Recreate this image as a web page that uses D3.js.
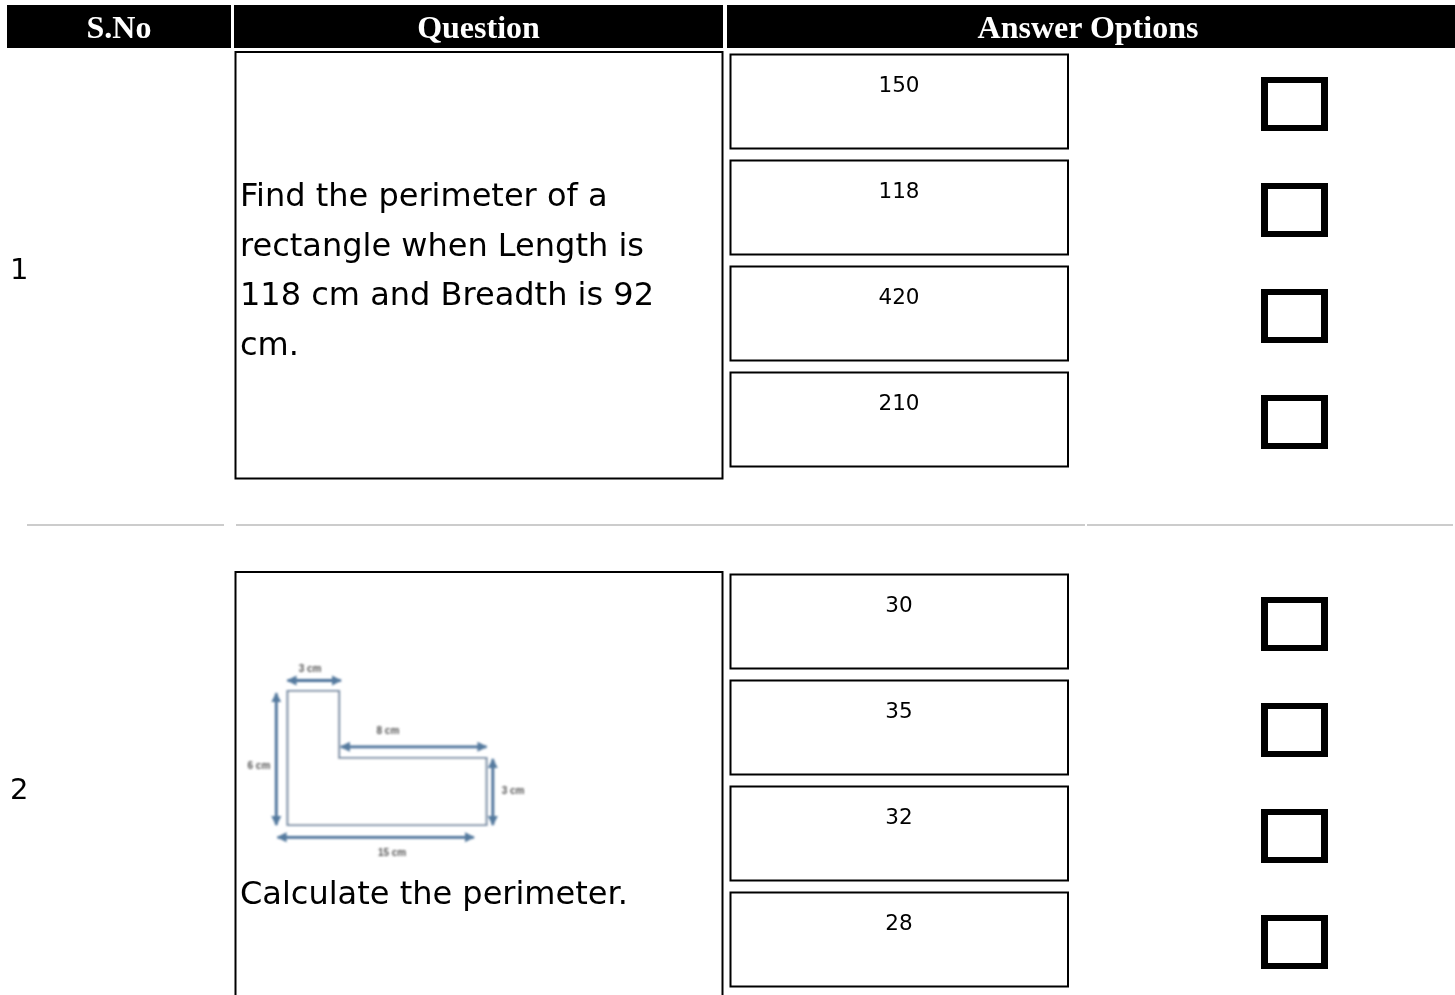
<!DOCTYPE html>
<html>
<head>
<meta charset="utf-8">
<title>Quiz table</title>
<script src="https://cdn.jsdelivr.net/npm/d3@7"></script>
<style>
	html, body { margin: 0; padding: 0; background: #fff; overflow: hidden; }
	svg { display: block; will-change: transform; }
	.head { font-family: "Liberation Serif", serif; font-weight: bold; font-size: 32px; fill: #fff; text-anchor: middle; }
	.body { font-family: "DejaVu Sans", sans-serif; fill: #000; }
</style>
</head>
<body>
<div id="table"></div>
<script>
// table content
const headers = ['S.No', 'Question', 'Answer Options'];
const serials = ['1', '2'];
const questionLines = [
	['Find the perimeter of a', 'rectangle when Length is', '118 cm and Breadth is 92', 'cm.'],
	['Calculate the perimeter.']
];
const answers = [
	['150', '118', '420', '210'],
	['30', '35', '32', '28']
];

// the small figure in question 2, in its own units (1 unit = 1 cm across / down)
const figureOutline = [[0, 0], [2.85, 0], [2.85, 3], [11, 3], [11, 6], [0, 6]];
const figureArrows = [
	[[0, -0.47], [2.95, -0.47]],
	[[-0.62, 0.1], [-0.62, 6]],
	[[2.95, 2.5], [11, 2.5]],
	[[11.35, 3.05], [11.35, 6]],
	[[-0.55, 6.55], [10.3, 6.55]]
];
const figureLabels = [
	['3 cm', 1.25, -1],
	['8 cm', 5.55, 1.75],
	['6 cm', -1.58, 3.35],
	['3 cm', 12.47, 4.45],
	['15 cm', 5.78, 7.25]
];

const svgWidth = 1455;
const svgHeight = 995;
const rowOffset = 520;

const svg = d3.select("#table").append("svg").attr("width", svgWidth).attr("height", svgHeight);

// header
const headCells = [[7, 224], [234, 489], [727, 728]];
headers.forEach(function(h, i){
	const c = headCells[i];
	svg.append("rect").attr("x", c[0]).attr("y", 5).attr("width", c[1]).attr("height", 43).attr("fill", "#000");
	svg.append("text").attr("class", "head").attr("x", c[0] + c[1] / 2 - (i === 2 ? 3 : 0)).attr("y", 38).text(h);
});

// one row of the table
function drawRow(rowIdx){
	const g = svg.append("g").attr("transform", `translate(0, ${rowIdx * rowOffset})`);

	g.append("text").attr("class", "body").attr("x", 10).attr("y", 279).attr("font-size", 29).text(serials[rowIdx]);

	g.append("rect").attr("x", 235.5).attr("y", 52).attr("width", 487).attr("height", 426.5)
		.attr("fill", "#fff").attr("stroke", "#000").attr("stroke-width", 2);

	const firstBase = rowIdx === 0 ? 206 : 384;
	questionLines[rowIdx].forEach(function(line, i){
		g.append("text").attr("class", "body").attr("x", 240).attr("y", firstBase + i * 49.6)
			.attr("font-size", 32).text(line);
	});

	const slot = d3.scaleBand().domain(d3.range(4)).range([54, 478]);
	answers[rowIdx].forEach(function(a, i){
		const top = slot(i);
		g.append("rect").attr("x", 730.5).attr("y", top + 0.5).attr("width", 337.5).attr("height", 94)
			.attr("fill", "#fff").attr("stroke", "#000").attr("stroke-width", 2);
		g.append("text").attr("class", "body").attr("x", 899).attr("y", top + 38).attr("text-anchor", "middle")
			.attr("font-size", 21.5).text(a);
		// checkbox: black block with a white inside, keeps the edges crisp
		g.append("rect").attr("x", 1261).attr("y", top + 23).attr("width", 67).attr("height", 54).attr("fill", "#000");
		g.append("rect").attr("x", 1268).attr("y", top + 29).attr("width", 53).attr("height", 42).attr("fill", "#fff");
	});
}
serials.forEach(function(s, i){ drawRow(i); });

// grey rule between the rows
[[27, 224], [236, 1085], [1087, 1453]].forEach(function(r){
	svg.append("line").attr("x1", r[0]).attr("x2", r[1]).attr("y1", 525).attr("y2", 525)
		.attr("stroke", "#ccc").attr("stroke-width", 2);
});

// figure of question 2, blurred like the scaled bitmap in the original
const defs = svg.append("defs");
defs.append("filter").attr("id", "soft").attr("filterUnits", "userSpaceOnUse")
	.attr("x", 240).attr("y", 650).attr("width", 290).attr("height", 220)
	.append("feGaussianBlur").attr("stdDeviation", 1);
const marker = defs.append("marker").attr("id", "head").attr("viewBox", "0 0 10 10")
	.attr("refX", 9).attr("refY", 5).attr("markerWidth", 3.6).attr("markerHeight", 4)
	.attr("orient", "auto-start-reverse");
marker.append("path").attr("d", "M0,0L10,5L0,10Z").attr("fill", "#557a9f");

const figX = d3.scaleLinear().domain([0, 11]).range([287.5, 486.5]);
const figY = d3.scaleLinear().domain([0, 6]).range([691, 825]);
const figLine = d3.line().x(d => figX(d[0])).y(d => figY(d[1]));

const fig = svg.append("g").attr("filter", "url(#soft)");
fig.append("path").attr("d", figLine(figureOutline) + "Z")
	.attr("fill", "#fff").attr("stroke", "#7f93a9").attr("stroke-width", 2.2);
figureArrows.forEach(function(a){
	fig.append("path").attr("d", figLine(a)).attr("fill", "none").attr("stroke", "#4a7099").attr("stroke-width", 2.8)
		.attr("marker-start", "url(#head)").attr("marker-end", "url(#head)");
});
figureLabels.forEach(function(l){
	fig.append("text").attr("x", figX(l[1])).attr("y", figY(l[2])).attr("dy", "0.35em").attr("text-anchor", "middle")
		.attr("font-family", "'Liberation Sans', sans-serif").attr("font-size", 10).attr("font-weight", "bold")
		.attr("fill", "#555").text(l[0]);
});
</script>
</body>
</html>
